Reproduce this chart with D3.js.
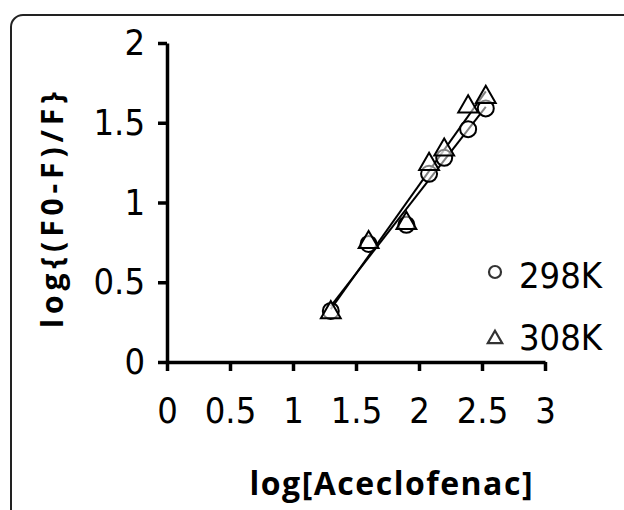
<!DOCTYPE html>
<html>
<head>
<meta charset="utf-8">
<script src="https://cdn.jsdelivr.net/npm/d3@7"></script>
<style>
  body { margin: 0; background: #fff; }
  svg text { fill: #000; }
</style>
</head>
<body>
<svg id="chart" width="624" height="510"></svg>
<script>
// data
const logConc = [1.30, 1.60, 1.90, 2.08, 2.20, 2.39, 2.53];
const y298 = [0.32, 0.74, 0.86, 1.18, 1.28, 1.46, 1.59];
const y308 = [0.31, 0.75, 0.87, 1.24, 1.33, 1.60, 1.66];
const seriesNames = ["298K", "308K"];
const xTicks = [0, 0.5, 1, 1.5, 2, 2.5, 3];
const yTicks = [0, 0.5, 1, 1.5, 2];

const svg = d3.select("#chart");
const tickFont = "'DejaVu Sans Condensed', 'DejaVu Sans', sans-serif";
const labelFont = "'Open Sans', 'Liberation Sans', sans-serif";

// frame
svg.append("rect")
  .attr("x", 11).attr("y", 15)
  .attr("width", 700).attr("height", 600)
  .attr("rx", 12)
  .attr("fill", "none")
  .attr("stroke", "#222")
  .attr("stroke-width", 2);

const x = d3.scaleLinear().domain([0, 3]).range([167, 545]);
const y = d3.scaleLinear().domain([0, 2]).range([362, 43]);

const xAxis = svg.append("g")
  .attr("transform", "translate(0," + y(0) + ")")
  .call(d3.axisBottom(x).tickValues(xTicks).tickSize(9).tickSizeOuter(0).tickPadding(26)
    .tickFormat(d3.format("")));
const yAxis = svg.append("g")
  .attr("transform", "translate(" + x(0) + ",0)")
  .call(d3.axisLeft(y).tickValues(yTicks).tickSize(9).tickSizeOuter(0).tickPadding(13)
    .tickFormat(d3.format("")));

[xAxis, yAxis].forEach(function (g) {
  g.select(".domain").attr("stroke", "#000").attr("stroke-width", 3.5);
  g.selectAll(".tick line").attr("stroke", "#000").attr("stroke-width", 3.5);
  g.selectAll(".tick text")
    .attr("font-family", tickFont)
    .attr("font-size", 36)
    .attr("fill", "#000");
});

// fit lines
function fit(xs, ys) {
  const mx = d3.mean(xs), my = d3.mean(ys);
  let sxy = 0, sxx = 0;
  xs.forEach(function (v, i) {
    sxy += (v - mx) * (ys[i] - my);
    sxx += (v - mx) * (v - mx);
  });
  const b = sxy / sxx;
  return { a: my - b * mx, b: b };
}
[y298, y308].forEach(function (ys) {
  const f = fit(logConc, ys);
  const x0 = d3.min(logConc), x1 = d3.max(logConc);
  svg.append("line")
    .attr("x1", x(x0)).attr("y1", y(f.a + f.b * x0))
    .attr("x2", x(x1)).attr("y2", y(f.a + f.b * x1))
    .attr("stroke", "#000")
    .attr("stroke-width", 2);
});

// markers
const tri = d3.symbol().type(d3.symbolTriangle).size(170);
svg.append("g").selectAll("circle")
  .data(logConc)
  .join("circle")
  .attr("cx", function (d) { return x(d); })
  .attr("cy", function (d, i) { return y(y298[i]); })
  .attr("r", 8)
  .attr("fill", "#fff")
  .attr("fill-opacity", 0.5)
  .attr("stroke", "#000")
  .attr("stroke-width", 2);
svg.append("g").selectAll("path")
  .data(logConc)
  .join("path")
  .attr("d", tri)
  .attr("transform", function (d, i) { return "translate(" + x(d) + "," + y(y308[i]) + ")"; })
  .attr("fill", "#fff")
  .attr("fill-opacity", 0.5)
  .attr("stroke", "#000")
  .attr("stroke-width", 2);

// legend
const leg = svg.append("g");
leg.append("circle")
  .attr("cx", 495).attr("cy", 272).attr("r", 6)
  .attr("fill", "#fff").attr("stroke", "#333").attr("stroke-width", 2.2);
leg.append("path")
  .attr("d", d3.symbol().type(d3.symbolTriangle).size(90))
  .attr("transform", "translate(495,339)")
  .attr("fill", "#fff").attr("stroke", "#333").attr("stroke-width", 2.2);
leg.selectAll("text")
  .data(seriesNames)
  .join("text")
  .attr("x", 519)
  .attr("y", function (d, i) { return 288 + i * 62; })
  .attr("font-family", tickFont)
  .attr("font-size", 36)
  .text(function (d) { return d; });

// axis titles
svg.append("text")
  .attr("x", 391).attr("y", 495)
  .attr("text-anchor", "middle")
  .attr("font-family", labelFont)
  .attr("font-weight", "bold")
  .attr("font-size", 32)
  .attr("textLength", 283)
  .attr("lengthAdjust", "spacing")
  .text("log[Aceclofenac]");
svg.append("text")
  .attr("transform", "translate(63,210) rotate(-90)")
  .attr("text-anchor", "middle")
  .attr("font-family", labelFont)
  .attr("font-weight", "bold")
  .attr("font-size", 30)
  .attr("textLength", 236)
  .attr("lengthAdjust", "spacing")
  .text("log{(F0-F)/F}");
</script>
</body>
</html>
